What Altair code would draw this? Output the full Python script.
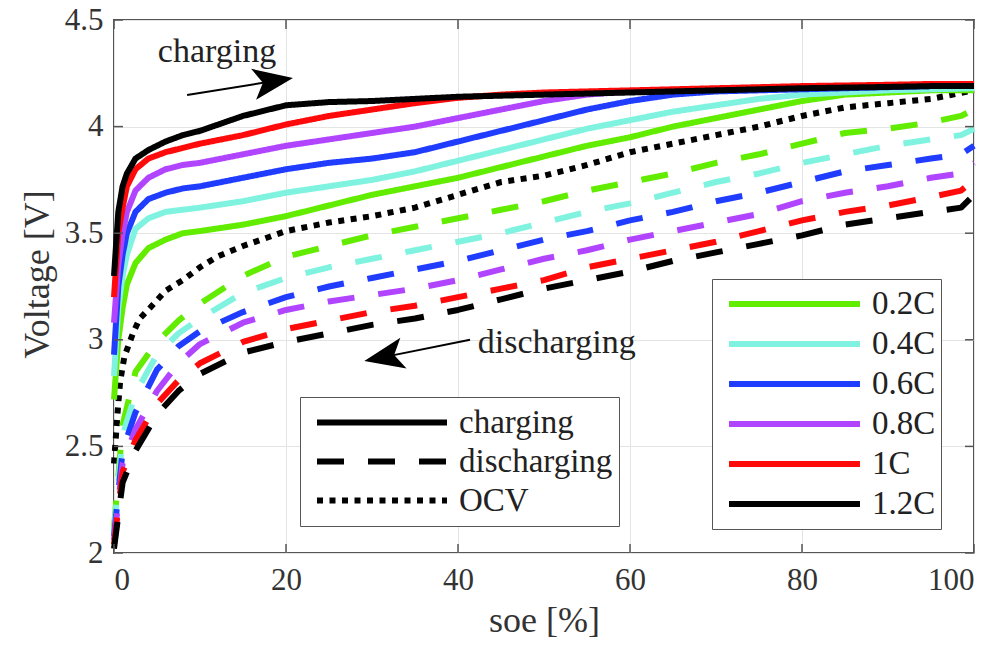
import altair as alt
import pandas as pd

FONT = "Liberation Serif"

# C-rates and their line colours
RATES = ["0.2C", "0.4C", "0.6C", "0.8C", "1C", "1.2C"]
RATE_COLORS = ["#62ec00", "#7ff3df", "#1f3cff", "#b044ff", "#ff0a0a", "#000000"]

# operating modes and their dash patterns
MODES = ["charging", "discharging", "OCV"]
MODE_DASHES = [[1, 0], [27, 24], [6, 6.5]]

# charging curves (solid)
soe_chg = [0, 0.5, 1, 1.5, 2.5, 4, 6, 8, 10, 15, 20, 25, 30, 35, 40, 45, 50,
           55, 60, 65, 70, 75, 80, 85, 90, 95, 100]
chg_02 = [2.72, 3.00, 3.15, 3.26, 3.36, 3.43, 3.47, 3.50, 3.51, 3.54, 3.58, 3.63, 3.68,
          3.72, 3.76, 3.81, 3.86, 3.91, 3.95, 4.00, 4.04, 4.08, 4.12, 4.15, 4.16, 4.17, 4.17]
chg_04 = [2.83, 3.15, 3.30, 3.40, 3.52, 3.57, 3.60, 3.61, 3.62, 3.65, 3.69, 3.72, 3.75,
          3.79, 3.84, 3.89, 3.94, 3.99, 4.03, 4.07, 4.10, 4.13, 4.15, 4.16, 4.17, 4.175, 4.18]
chg_06 = [2.93, 3.25, 3.40, 3.50, 3.60, 3.66, 3.69, 3.71, 3.72, 3.76, 3.80, 3.83, 3.85,
          3.88, 3.93, 3.98, 4.03, 4.08, 4.12, 4.15, 4.165, 4.17, 4.175, 4.18, 4.185, 4.19, 4.19]
chg_08 = [3.08, 3.35, 3.50, 3.60, 3.70, 3.76, 3.80, 3.82, 3.83, 3.87, 3.91, 3.94, 3.97,
          4.00, 4.04, 4.08, 4.12, 4.15, 4.165, 4.17, 4.175, 4.18, 4.185, 4.19, 4.192, 4.195, 4.20]
chg_10 = [3.20, 3.50, 3.62, 3.72, 3.80, 3.85, 3.88, 3.90, 3.92, 3.96, 4.01, 4.05, 4.08,
          4.11, 4.135, 4.15, 4.16, 4.165, 4.17, 4.175, 4.18, 4.185, 4.19, 4.193, 4.196, 4.20, 4.20]
chg_12 = [3.30, 3.60, 3.72, 3.78, 3.85, 3.89, 3.93, 3.96, 3.98, 4.05, 4.10, 4.115, 4.12,
          4.13, 4.14, 4.145, 4.15, 4.155, 4.16, 4.165, 4.17, 4.175, 4.18, 4.183, 4.186, 4.19, 4.19]

# discharging curves (dashed)
soe_dis = [0, 1, 2.5, 5, 7.5, 10, 15, 20, 25, 30, 35, 40, 45, 50, 55, 60, 65, 70,
           75, 80, 85, 90, 95, 98.5, 100]
dis_02 = [2.12, 2.60, 2.85, 2.99, 3.09, 3.17, 3.30, 3.39, 3.44, 3.49, 3.53, 3.57, 3.61,
          3.65, 3.70, 3.74, 3.78, 3.83, 3.87, 3.92, 3.97, 3.99, 4.02, 4.05, 4.08]
dis_04 = [2.10, 2.55, 2.75, 2.93, 3.03, 3.10, 3.22, 3.29, 3.34, 3.38, 3.42, 3.46, 3.50,
          3.55, 3.60, 3.64, 3.69, 3.74, 3.78, 3.83, 3.87, 3.91, 3.94, 3.96, 3.99]
dis_06 = [2.08, 2.48, 2.66, 2.86, 2.97, 3.04, 3.13, 3.20, 3.25, 3.29, 3.33, 3.37, 3.42,
          3.47, 3.51, 3.56, 3.60, 3.65, 3.69, 3.74, 3.79, 3.82, 3.85, 3.87, 3.91]
dis_08 = [2.06, 2.42, 2.58, 2.76, 2.89, 2.98, 3.08, 3.14, 3.18, 3.21, 3.24, 3.28, 3.33,
          3.38, 3.42, 3.47, 3.51, 3.55, 3.59, 3.65, 3.69, 3.72, 3.76, 3.78, 3.83]
dis_10 = [2.04, 2.38, 2.53, 2.70, 2.81, 2.89, 2.99, 3.05, 3.09, 3.13, 3.16, 3.20, 3.24,
          3.28, 3.34, 3.38, 3.42, 3.46, 3.51, 3.56, 3.60, 3.63, 3.67, 3.70, 3.75]
dis_12 = [2.02, 2.33, 2.48, 2.65, 2.76, 2.84, 2.94, 2.99, 3.03, 3.07, 3.10, 3.14, 3.19,
          3.24, 3.28, 3.32, 3.37, 3.41, 3.45, 3.49, 3.54, 3.57, 3.60, 3.62, 3.68]

# open-circuit voltage (dotted)
soe_ocv = [0, 0.4, 0.7, 1.2, 2.2, 3, 4.2, 6, 8, 10, 12, 15, 20, 25, 30, 35, 40, 45,
           50, 55, 60, 65, 70, 75, 80, 85, 90, 95, 100]
ocv = [2.42, 2.65, 2.80, 2.92, 3.03, 3.10, 3.15, 3.23, 3.28, 3.34, 3.39, 3.44, 3.51,
       3.55, 3.58, 3.62, 3.68, 3.74, 3.77, 3.82, 3.88, 3.92, 3.96, 4.00, 4.05, 4.09,
       4.11, 4.13, 4.17]

x_ticks = [0, 20, 40, 60, 80, 100]
y_ticks = [2, 2.5, 3, 3.5, 4, 4.5]

# annotation texts and arrows (soe, voltage)
note_text = ["charging", "discharging"]
note_soe = [5.1, 42.3]
note_v = [4.303, 2.94]
arrow_tail_soe = [8.5, 41.4]
arrow_tail_v = [4.148, 3.0]
arrow_head_soe = [18.4, 31.5]
arrow_head_v = [4.2125, 2.92]
arrow_angle = [350.9, 168.7]

W, H = 860, 533

rows = []
for rate, vals in zip(RATES, [chg_02, chg_04, chg_06, chg_08, chg_10, chg_12]):
    for s, v in zip(soe_chg, vals):
        rows.append({"soe": s, "voltage": v, "rate": rate, "mode": "charging"})
for rate, vals in zip(RATES, [dis_02, dis_04, dis_06, dis_08, dis_10, dis_12]):
    for s, v in zip(soe_dis, vals):
        rows.append({"soe": s, "voltage": v, "rate": rate, "mode": "discharging"})
curves = pd.DataFrame(rows)
ocv_df = pd.DataFrame({"soe": soe_ocv, "voltage": ocv, "mode": "OCV"})

x_enc = alt.X(
    "soe:Q",
    scale=alt.Scale(domain=[0, 100], nice=False),
    axis=alt.Axis(values=x_ticks, title="soe [%]", labelPadding=12, titlePadding=8),
)
y_enc = alt.Y(
    "voltage:Q",
    scale=alt.Scale(domain=[2, 4.5], nice=False, zero=False),
    axis=alt.Axis(values=y_ticks, format="~g", title="Voltage [V]", labelPadding=11,
                  titlePadding=8, titleY=254),
)

dash_scale = alt.Scale(domain=MODES, range=MODE_DASHES)
dash_legend = alt.Legend(
    title=None, orient="none", legendX=186, legendY=377, direction="vertical",
    symbolType="stroke", symbolSize=16900, symbolStrokeWidth=6, symbolStrokeColor="black",
    clipHeight=39, rowPadding=0, labelFontSize=33, labelFont=FONT, labelColor="#222",
    labelOffset=9, padding=6, strokeColor="#555", fillColor="white", symbolOffset=8,
)
color_legend = alt.Legend(
    title=None, orient="none", legendX=598, legendY=259, direction="vertical",
    symbolType="stroke", symbolSize=17161, symbolStrokeWidth=6,
    clipHeight=40, rowPadding=0, labelFontSize=33, labelFont=FONT, labelColor="#222",
    labelOffset=9, padding=5, strokeColor="#555", fillColor="white", symbolOffset=9,
)

ocv_line = alt.Chart(ocv_df).mark_line(strokeWidth=6, strokeCap="butt", color="black").encode(
    x=x_enc, y=y_enc,
    strokeDash=alt.StrokeDash("mode:N", scale=dash_scale, legend=dash_legend),
)

rate_lines = alt.Chart(curves).mark_line(strokeWidth=6, strokeCap="butt", strokeJoin="round").encode(
    x=x_enc, y=y_enc,
    color=alt.Color("rate:N", scale=alt.Scale(domain=RATES, range=RATE_COLORS), legend=color_legend),
    strokeDash=alt.StrokeDash("mode:N", scale=dash_scale, legend=dash_legend),
    order=alt.Order("soe:Q"),
)

# inward tick marks on all four sides of the box
xt = pd.DataFrame({"soe": x_ticks})
yt = pd.DataFrame({"voltage": y_ticks})
tick_style = dict(color="#555", strokeWidth=1.5)
ticks_bottom = alt.Chart(xt).mark_rule(**tick_style).encode(
    x="soe:Q", y=alt.value(H), y2=alt.value(H - 9))
ticks_top = alt.Chart(xt).mark_rule(**tick_style).encode(
    x="soe:Q", y=alt.value(0), y2=alt.value(9))
ticks_left = alt.Chart(yt).mark_rule(**tick_style).encode(
    y="voltage:Q", x=alt.value(0), x2=alt.value(9))
ticks_right = alt.Chart(yt).mark_rule(**tick_style).encode(
    y="voltage:Q", x=alt.value(W), x2=alt.value(W - 9))

notes = pd.DataFrame({"label": note_text, "soe": note_soe, "voltage": note_v})
note_marks = alt.Chart(notes).mark_text(
    font=FONT, fontSize=34, color="#222", align="left", baseline="alphabetic"
).encode(x="soe:Q", y="voltage:Q", text="label:N")

arrows = pd.DataFrame({
    "soe": arrow_tail_soe, "voltage": arrow_tail_v,
    "soe2": arrow_head_soe, "voltage2": arrow_head_v, "angle": arrow_angle,
})
arrow_shafts = alt.Chart(arrows).mark_rule(color="black", strokeWidth=2).encode(
    x="soe:Q", y="voltage:Q", x2="soe2:Q", y2="voltage2:Q")
arrow_heads = alt.Chart(arrows).mark_point(
    shape="M1,0L-0.9,-0.75L-0.45,0L-0.9,0.75Z", size=1764, filled=True,
    color="black", opacity=1, strokeWidth=0,
).encode(x="soe2:Q", y="voltage2:Q", angle=alt.Angle("angle:Q", scale=None))

chart = alt.layer(
    ocv_line, rate_lines,
    ticks_bottom, ticks_top, ticks_left, ticks_right,
    arrow_shafts, arrow_heads, note_marks,
).resolve_scale(strokeDash="shared").properties(
    width=W, height=H,
    autosize=alt.AutoSizeParams(type="none"),
    padding={"left": 114, "top": 20, "right": 25, "bottom": 97},
    background="white",
).configure_view(
    stroke="#555", strokeWidth=2,
).configure_axis(
    labelFont=FONT, labelFontSize=31, labelColor="#333",
    titleFont=FONT, titleFontSize=36, titleColor="#333", titleFontWeight="normal",
    domain=False, ticks=False, grid=True, gridColor="#e4e4e4", gridWidth=1,
)

chart.save("out.html", embed_options={"renderer": "svg", "actions": False})
